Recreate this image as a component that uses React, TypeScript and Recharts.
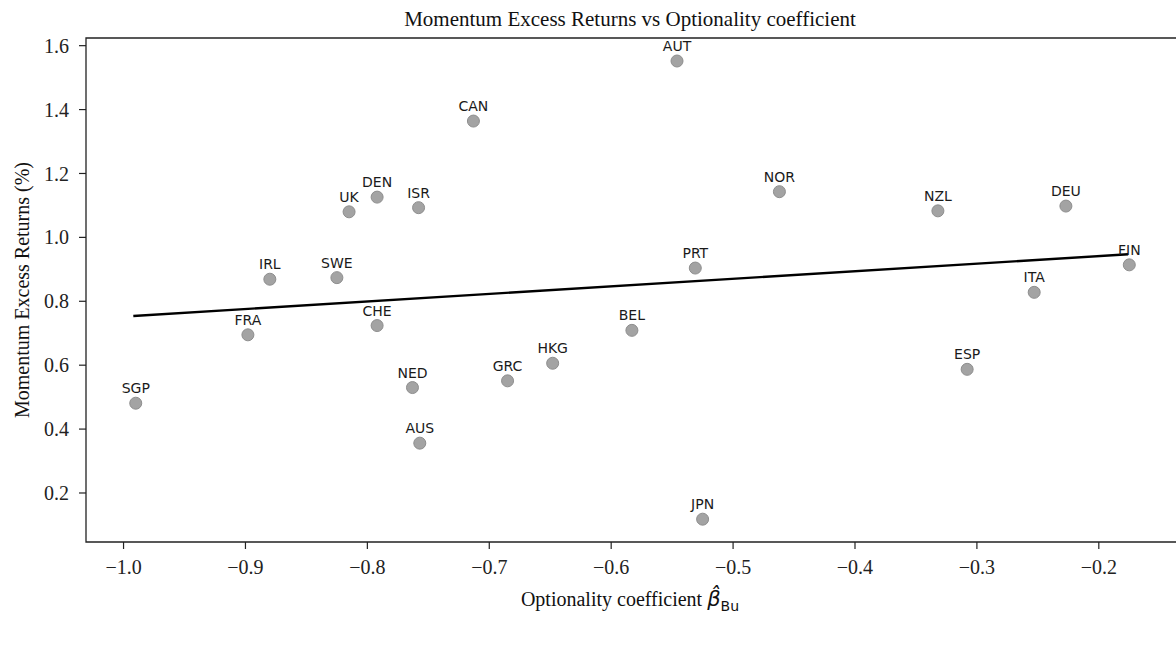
import {
  ScatterChart, Scatter, XAxis, YAxis, ReferenceArea, ReferenceLine,
} from 'recharts'

const countries = ['SGP', 'FRA', 'IRL', 'SWE', 'CHE', 'UK', 'DEN', 'ISR', 'NED', 'AUS', 'CAN', 'GRC', 'HKG', 'BEL', 'AUT', 'PRT', 'JPN', 'NOR', 'ESP', 'NZL', 'ITA', 'DEU', 'FIN']
const optionality = [-0.990, -0.898, -0.880, -0.825, -0.792, -0.815, -0.792, -0.758, -0.763, -0.757, -0.713, -0.685, -0.648, -0.583, -0.546, -0.531, -0.525, -0.462, -0.308, -0.332, -0.253, -0.227, -0.175]
const excessReturns = [0.481, 0.695, 0.869, 0.874, 0.724, 1.080, 1.126, 1.093, 0.530, 0.356, 1.364, 0.551, 0.606, 0.709, 1.552, 0.904, 0.118, 1.143, 0.587, 1.083, 0.828, 1.098, 0.914]

// fitted line end points
const trendX = [-0.992, -0.176]
const trendY = [0.754, 0.947]

const xTicks = [-1.0, -0.9, -0.8, -0.7, -0.6, -0.5, -0.4, -0.3, -0.2]
const yTicks = [0.2, 0.4, 0.6, 0.8, 1.0, 1.2, 1.4, 1.6]
const xDomain: [number, number] = [-1.0308, -0.1293]
const yDomain: [number, number] = [0.0466, 1.624]

const points = countries.map((name, i) => ({ name, x: optionality[i], y: excessReturns[i] }))

const SERIF = '"Liberation Serif", "Times New Roman", serif'
const SANS = '"DejaVu Sans", sans-serif'

const fmt = (v: number) => (v < 0 ? '\u2212' : '') + Math.abs(v).toFixed(1)

function CountryDot(props: any) {
  const { cx, cy, payload } = props
  if (cx == null || cy == null) return <g />
  return (
    <g>
      <circle cx={cx} cy={cy} r={6} fill="#a3a3a3" stroke="#8e8e8e" strokeWidth={1} />
      <text x={cx} y={cy - 10} textAnchor="middle" fontFamily={SANS} fontSize={14} fill="#1a1a1a">
        {payload.name}
      </text>
    </g>
  )
}

export default function App() {
  const tickStyle = { fontFamily: SERIF, fontSize: 20, fill: '#222' }
  return (
    <div style={{ position: 'fixed', left: 0, top: 0, width: 1176, height: 646, overflow: 'hidden', background: '#fff' }}>
      <ScatterChart width={1190} height={646} margin={{ top: 38, right: 5, bottom: 44, left: 0 }}>
        <text x={630} y={26} textAnchor="middle" fontFamily={SERIF} fontSize={21} fill="#111">
          Momentum Excess Returns vs Optionality coefficient
        </text>
        <XAxis
          type="number"
          dataKey="x"
          domain={xDomain}
          allowDataOverflow
          ticks={xTicks}
          tickFormatter={fmt}
          tick={tickStyle}
          tickSize={7}
          tickMargin={11}
          tickLine={{ stroke: '#222', strokeWidth: 1.2 }}
          axisLine={false}
          height={60}
          label={{
            content: () => (
              <text x={630} y={606} textAnchor="middle" fontFamily={SERIF} fontSize={20} fill="#111">
                Optionality coefficient{' '}
                <tspan fontFamily={SANS} fontStyle="italic" fontSize={21}>{'\u03B2\u0302'}</tspan>
                <tspan fontFamily={SANS} fontSize={14} dy={5}>Bu</tspan>
              </text>
            ),
          }}
        />
        <YAxis
          type="number"
          dataKey="y"
          domain={yDomain}
          allowDataOverflow
          ticks={yTicks}
          tickFormatter={(v: number) => v.toFixed(1)}
          tick={tickStyle}
          tickSize={7}
          tickMargin={10}
          tickLine={{ stroke: '#222', strokeWidth: 1.2 }}
          axisLine={false}
          width={86}
          label={{
            content: () => (
              <text
                x={22}
                y={290}
                transform="rotate(-90 22 290)"
                textAnchor="middle"
                dominantBaseline="central"
                fontFamily={SERIF}
                fontSize={20}
                fill="#111"
              >
                Momentum Excess Returns (%)
              </text>
            ),
          }}
        />
        <ReferenceArea
          x1={xDomain[0]} x2={xDomain[1]} y1={yDomain[0]} y2={yDomain[1]}
          fill="none" fillOpacity={0} stroke="#222" strokeWidth={1.3} ifOverflow="visible"
        />
        <ReferenceLine
          segment={[{ x: trendX[0], y: trendY[0] }, { x: trendX[1], y: trendY[1] }]}
          stroke="#000"
          strokeWidth={2.4}
        />
        <Scatter data={points} shape={CountryDot} isAnimationActive={false} />
      </ScatterChart>
    </div>
  )
}
